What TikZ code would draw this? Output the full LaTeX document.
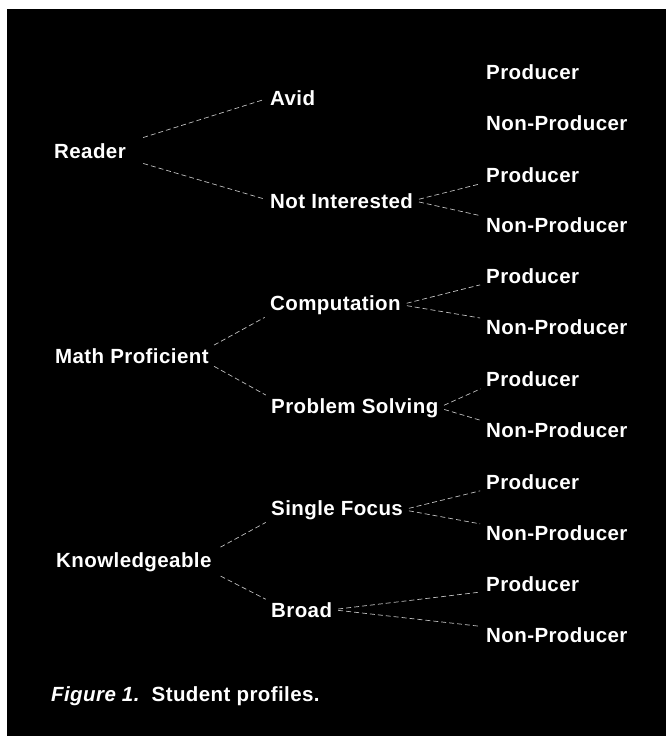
\documentclass[tikz,border=0pt]{standalone}
\usepackage{fontspec}
\newfontfamily\labfont{Liberation Sans}[LetterSpace=2]
\begin{document}
\begin{tikzpicture}[x=1bp,y=-1bp,
  lab/.style={text=white,inner sep=0pt,anchor=base west,
    font=\labfont\bfseries\fontsize{20.5bp}{24bp}\selectfont},
  conn/.style={draw=white!75!black,line width=0.7pt,dash pattern=on 5pt off 3pt,
    shorten <=6bp,shorten >=6bp}]
\useasboundingbox (0,0) rectangle (666,736);
\fill[white] (0,0) rectangle (666,736);
\fill[black] (7,9) rectangle (666,736);
% top level
\node[lab] (reader) at (54,158) {Reader};
\node[lab] (math) at (55,363) {Math Proficient};
\node[lab] (know) at (56,567) {Knowledgeable};
% second level
\node[lab] (avid) at (270,105) {Avid};
\node[lab] (notint) at (270,208) {Not Interested};
\node[lab] (comp) at (270,310) {Computation};
\node[lab] (prob) at (271,413) {Problem Solving};
\node[lab] (single) at (271,515) {Single Focus};
\node[lab] (broad) at (271,617) {Broad};
% leaves
\node[lab] (p1) at (486,79) {Producer};
\node[lab] (n1) at (486,130) {Non-Producer};
\node[lab] (p2) at (486,182) {Producer};
\node[lab] (n2) at (486,232) {Non-Producer};
\node[lab] (p3) at (486,283) {Producer};
\node[lab] (n3) at (486,334) {Non-Producer};
\node[lab] (p4) at (486,386) {Producer};
\node[lab] (n4) at (486,437) {Non-Producer};
\node[lab] (p5) at (486,489) {Producer};
\node[lab] (n5) at (486,540) {Non-Producer};
\node[lab] (p6) at (486,591) {Producer};
\node[lab] (n6) at (486,642) {Non-Producer};
% caption
\node[lab] (cap) at (51,701) {\itshape Figure 1.\upshape\ \ Student profiles.};
% connectors
\draw[conn,shorten <=18bp] (reader.north east) -- (avid.west);
\draw[conn,shorten <=18bp] (reader.south east) -- (notint.west);
\draw[conn] (math.north east) -- (comp.south west);
\draw[conn] (math.south east) -- (prob.north west);
\draw[conn,shorten <=10bp] (know.north east) -- (single.south west);
\draw[conn,shorten <=10bp] (know.south east) -- (broad.north west);
\draw[conn] (notint.east) -- (p2.south west);
\draw[conn] (notint.east) -- (n2.north west);
\draw[conn] (comp.east) -- (p3.south west);
\draw[conn] (comp.east) -- (n3.north west);
\draw[conn] (prob.east) -- (p4.south west);
\draw[conn] (prob.east) -- (n4.north west);
\draw[conn] (single.east) -- (p5.south west);
\draw[conn] (single.east) -- (n5.north west);
\draw[conn] (broad.east) -- (p6.south west);
\draw[conn] (broad.east) -- (n6.north west);
\end{tikzpicture}
\end{document}
